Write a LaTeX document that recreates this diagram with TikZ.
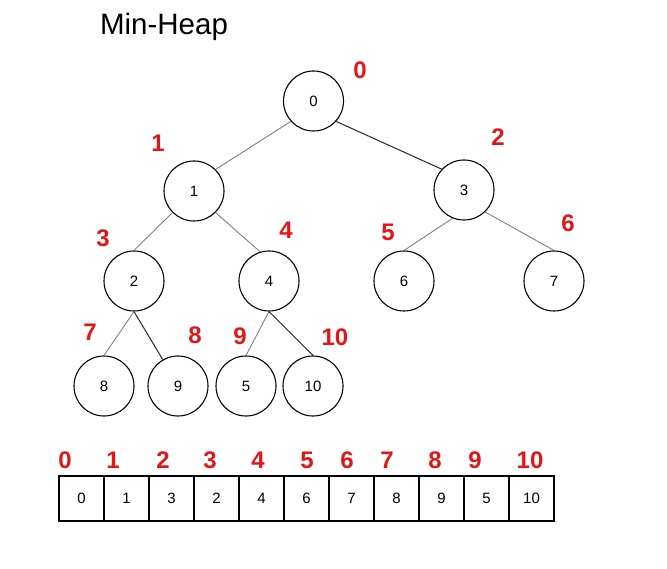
\documentclass[tikz,border=0pt]{standalone}
\usepackage{fontspec}
\setmainfont{Liberation Sans}
\definecolor{idxred}{RGB}{226,22,22}

\begin{document}
\begin{tikzpicture}[x=1pt, y=-1pt,
    heapnode/.style={circle, draw=black, line width=1.1pt, minimum size=60pt, inner sep=0pt, font=\fontsize{15}{15}\selectfont},
    idx/.style={text=idxred, inner sep=0pt, font=\fontsize{24}{24}\selectfont\bfseries},
    cell/.style={draw=black, line width=1.1pt, minimum width=45pt, minimum height=45pt, inner sep=0pt, font=\fontsize{15}{15}\selectfont},
    treeline/.style={line width=0.9pt, black!50},
    darkline/.style={line width=1pt, black!85}]
    \useasboundingbox (0,0) rectangle (667,569);

    \node[font=\fontsize{29.5}{29.5}\selectfont] (title) at (164,27) {Min-Heap};

    % tree, named by heap index
    \node[heapnode] (h0) at (313.5,101) {0};
    \node[heapnode] (h1) at (194,191) {1};
    \node[heapnode] (h2) at (464,190) {3};
    \node[heapnode] (h3) at (134,281) {2};
    \node[heapnode] (h4) at (269,281) {4};
    \node[heapnode] (h5) at (404,281) {6};
    \node[heapnode] (h6) at (554,281) {7};
    \node[heapnode] (h7) at (104,386) {8};
    \node[heapnode] (h8) at (178,386) {9};
    \node[heapnode] (h9) at (246,386) {5};
    \node[heapnode] (h10) at (313,386) {10};

    % red indices beside the tree
    \node[idx] (t0) at (360,70) {0};
    \node[idx] (t1) at (158,143) {1};
    \node[idx] (t2) at (498,137) {2};
    \node[idx] (t3) at (103,238) {3};
    \node[idx] (t4) at (286,230) {4};
    \node[idx] (t5) at (388,232) {5};
    \node[idx] (t6) at (568,223) {6};
    \node[idx] (t7) at (90,332) {7};
    \node[idx] (t8) at (195,335) {8};
    \node[idx] (t9) at (240,336) {9};
    \node[idx] (t10) at (335,337) {10};

    \draw[treeline] (h0.222) -- (h1.45);
    \draw[darkline] (h0.318) -- (h2.137);
    \draw[treeline] (h1.225) -- (h3.north);
    \draw[treeline] (h1.315) -- (h4.107);
    \draw[treeline] (h2.248) -- (h5.north);
    \draw[treeline] (h2.314) -- (h6.north);
    \draw[treeline] (h3.south) -- (h7.north);
    \draw[darkline] (h3.south) -- (h8.120);
    \draw[treeline] (h4.south) -- (h9.north);
    \draw[darkline] (h4.south) -- (h10.north);

    % array
    \foreach \v [count=\k from 0] in {0,1,3,2,4,6,7,8,9,5,10}
        \node[cell] (c\k) at (81.5+45*\k,498.5) {\v};
    \foreach \x [count=\k from 0] in {65,113,163,210,258,307,347,387,435,475,530}
        \node[idx] (a\k) at (\x,460) {\k};

\end{tikzpicture}
\end{document}
